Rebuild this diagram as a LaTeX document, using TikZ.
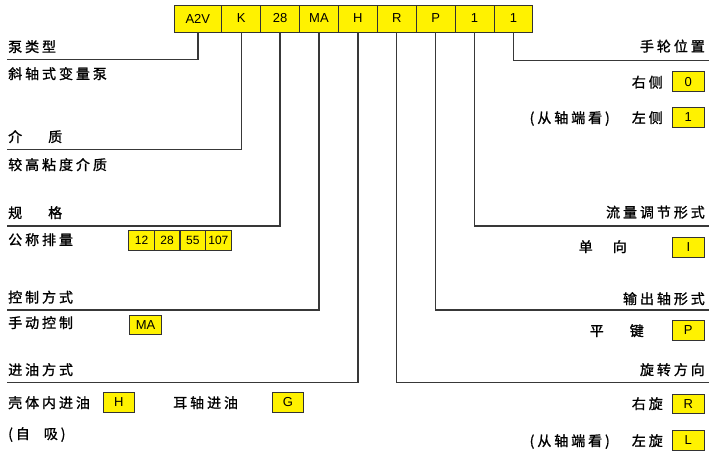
\documentclass[tikz,border=0pt]{standalone}
\usepackage{fontspec}
\setmainfont{Liberation Sans}
\newfontfamily\cjk[LetterSpace=21,FakeBold=1.2]{Noto Sans CJK SC}
\begin{document}
\begin{tikzpicture}[x=1pt,y=-1pt,
  conn/.style={draw=black!78,line width=1.3pt},
  codebox/.style={draw=black!80,line width=0.9pt,fill=yellow,inner sep=0pt,minimum height=27pt,minimum width=38.9pt,font=\fontsize{13}{13}\selectfont},
  smallbox/.style={draw=black!80,line width=0.9pt,fill=yellow,inner sep=0pt,minimum height=20pt,minimum width=25.5pt,font=\fontsize{12}{12}\selectfont},
  optbox/.style={draw=black!80,line width=0.9pt,fill=yellow,inner sep=0pt,minimum height=19.5pt,minimum width=31.5pt,font=\fontsize{13}{13}\selectfont},
  ltxt/.style={anchor=base west,inner sep=0pt,font=\fontsize{14}{14}\cjk},
  rtxt/.style={anchor=base east,inner sep=0pt,font=\fontsize{14}{14}\cjk}]
\useasboundingbox (0,0) rectangle (720,460);
% top code boxes
\node[codebox,minimum width=47.7pt] (a2v) at (197.85,18.5) {A2V};
\node[codebox] (k)  at (241.15,18.5) {K};
\node[codebox] (s28) at (280.05,18.5) {28};
\node[codebox] (ma) at (318.95,18.5) {MA};
\node[codebox] (h)  at (357.85,18.5) {H};
\node[codebox] (r)  at (396.75,18.5) {R};
\node[codebox] (p)  at (435.65,18.5) {P};
\node[codebox] (o1) at (474.55,18.5) {1};
\node[codebox] (o2) at (513.45,18.5) {1};
% connector ends
\coordinate (ea2v) at (7,59.5);
\coordinate (ek) at (7,149.5);
\coordinate (e28) at (7,226);
\coordinate (ema) at (7,310);
\coordinate (eh) at (7,382.5);
\coordinate (er) at (709,382.5);
\coordinate (ep) at (709,310);
\coordinate (eo1) at (709,226);
\coordinate (eo2) at (709,60.5);
\draw[conn] (a2v.south) |- (ea2v);
\draw[conn] (k.south) |- (ek);
\draw[conn] (s28.south) |- (e28);
\draw[conn] (ma.south) |- (ema);
\draw[conn] (h.south) |- (eh);
\draw[conn] (r.south) |- (er);
\draw[conn] (p.south) |- (ep);
\draw[conn] (o1.south) |- (eo1);
\draw[conn] (o2.south) |- (eo2);
% left texts
\node[ltxt] (t1) at (8,52) {泵类型};
\node[ltxt] (t2) at (8,79) {斜轴式变量泵};
\node[ltxt] (t3) at (8,142) {介\hspace{26pt}质};
\node[ltxt] (t4) at (8,170) {较高粘度介质};
\node[ltxt] (t5) at (8,218) {规\hspace{26pt}格};
\node[ltxt] (t6) at (8,245) {公称排量};
\node[smallbox] (d12) at (141.65,240) {12};
\node[smallbox] (d28) at (167.15,240) {28};
\node[smallbox] (d55) at (192.85,240) {55};
\node[smallbox] (d107) at (218.35,240) {107};
\node[ltxt] (t7) at (8,302.5) {控制方式};
\node[ltxt] (t8) at (8,328) {手动控制};
\node[optbox] (bma) at (145.5,324.7) {MA};
\node[ltxt] (t9) at (8,375) {进油方式};
\node[ltxt] (t10) at (8,408) {壳体内进油};
\node[optbox] (bh) at (118.8,402.3) {H};
\node[ltxt] (t11) at (173,408) {耳轴进油};
\node[optbox] (bg) at (288,402.3) {G};
\node[ltxt] (t12) at (8,439) {(自\hspace{14pt}吸)};
% right texts
\node[rtxt] (r1) at (705,51.5) {手轮位置};
\node[rtxt] (r2) at (663,87.5) {右侧};
\node[optbox] (b0) at (688.3,81.7) {0};
\node[rtxt] (r3) at (610,123) {(从轴端看)};
\node[rtxt] (r4) at (663,123) {左侧};
\node[optbox] (b1) at (688.3,117.3) {1};
\node[rtxt] (r5) at (705,217.5) {流量调节形式};
\node[rtxt] (r6) at (627,252) {单\hspace{20pt}向};
\node[optbox] (bi) at (688.3,247.5) {I};
\node[rtxt] (r7) at (705,304) {输出轴形式};
\node[rtxt] (r8) at (644,336) {平\hspace{26pt}键};
\node[optbox] (bp) at (688.3,330.3) {P};
\node[rtxt] (r9) at (705,375) {旋转方向};
\node[rtxt] (r10) at (663,409) {右旋};
\node[optbox] (br) at (688.3,404) {R};
\node[rtxt] (r11) at (610,446) {(从轴端看)};
\node[rtxt] (r12) at (663,446) {左旋};
\node[optbox] (bl) at (688.3,440.3) {L};
\end{tikzpicture}
\end{document}
